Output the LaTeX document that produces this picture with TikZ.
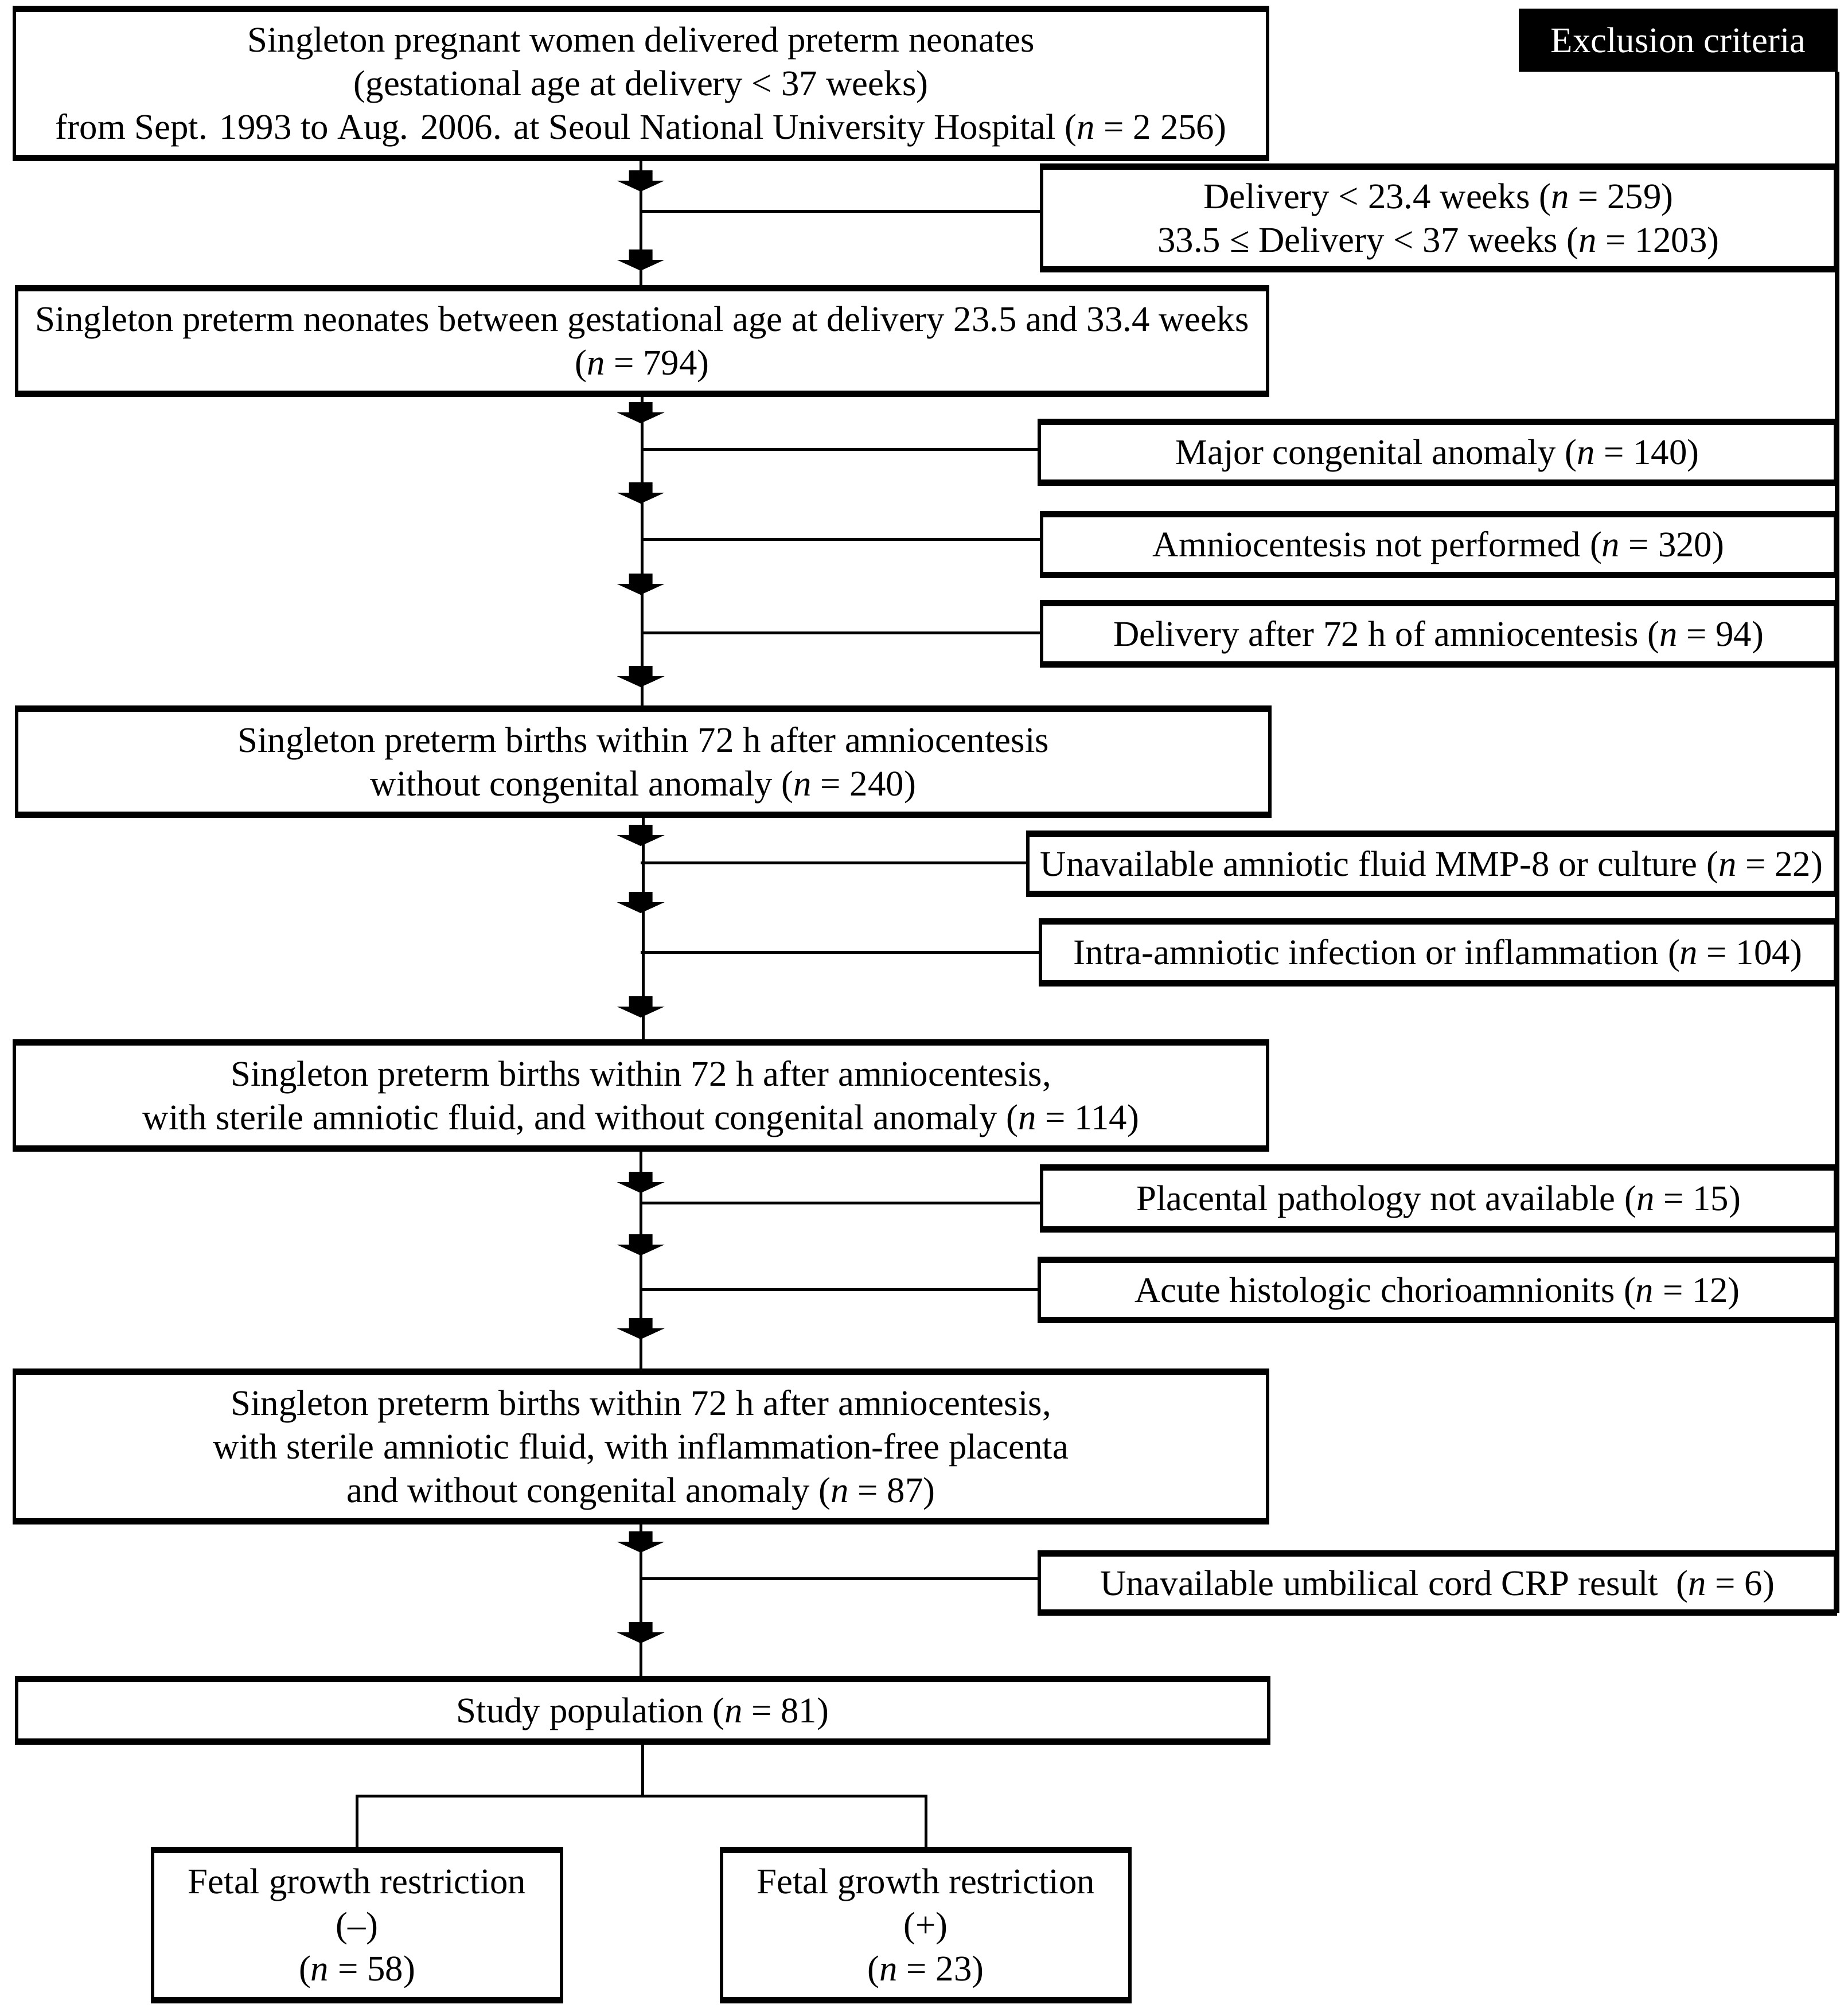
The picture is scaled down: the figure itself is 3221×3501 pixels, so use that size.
\documentclass[tikz,border=0pt]{standalone}
\usepackage{fontspec}
\setmainfont{Liberation Serif}
\newcommand{\nn}{\textit{n}}
\newcommand{\tstrut}{\rule{0pt}{56pt}}
\tikzset{
  txt/.style={font=\fontsize{62.8pt}{76pt}\selectfont},
  box/.style={txt, draw, line width=6pt, inner sep=0pt, align=center,
    append after command={
      (\tikzlastnode.north west) edge[line width=10pt, line cap=butt] (\tikzlastnode.north east)
      (\tikzlastnode.south west) edge[line width=10pt, line cap=butt] (\tikzlastnode.south east)}},
  conn/.style={line width=5pt},
  exline/.style={line width=8pt},
  blockarrow/.pic={\fill (-20.5,0) -- (20.5,0) -- (20.5,18) -- (41.5,18) -- (0,37) -- (-41.5,18) -- (-20.5,18) -- cycle;}
}
\begin{document}
\begin{tikzpicture}[x=1pt,y=-1pt]
\useasboundingbox (0,0) rectangle (3221,3501);

% main boxes
\node[box, minimum width=2185, minimum height=255] (top) at (1117.5,145.5)
  {\tstrut Singleton pregnant women delivered preterm neonates\\(gestational age at delivery < 37 weeks)\\from Sept. 1993 to Aug. 2006. at Seoul National University Hospital (\nn{} = 2~256)};
\node[box, minimum width=2181, minimum height=179] (b2) at (1119.5,594.5)
  {\tstrut Singleton preterm neonates between gestational age at delivery 23.5 and 33.4 weeks\\(\nn{} = 794)};
\node[box, minimum width=2185, minimum height=180] (b3) at (1121.5,1328)
  {\tstrut Singleton preterm births within 72 h after amniocentesis\\without congenital anomaly (\nn{} = 240)};
\node[box, minimum width=2185, minimum height=180] (b4) at (1117.5,1910)
  {\tstrut Singleton preterm births within 72 h after amniocentesis,\\with sterile amniotic fluid, and without congenital anomaly (\nn{} = 114)};
\node[box, minimum width=2185, minimum height=256] (b5) at (1117.5,2522)
  {\tstrut Singleton preterm births within 72 h after amniocentesis,\\with sterile amniotic fluid, with inflammation-free placenta\\and without congenital anomaly (\nn{} = 87)};
\node[box, minimum width=2183, minimum height=104] (study) at (1120.5,2982)
  {\tstrut Study population (\nn{} = 81)};
\node[box, minimum width=713, minimum height=257] (fgrm) at (622.5,3356.5)
  {\tstrut Fetal growth restriction\\(--)\\(\nn{} = 58)};
\node[box, minimum width=712, minimum height=257] (fgrp) at (1614,3356.5)
  {\tstrut Fetal growth restriction\\(+)\\(\nn{} = 23)};

% exclusion header
\node[txt, fill=black, text=white, inner sep=0pt, minimum width=556, minimum height=110] (excl) at (2926,70) {Exclusion criteria};

% exclusion boxes
\node[box, minimum width=1384, minimum height=174] (e1) at (2508,380)
  {\tstrut Delivery < 23.4 weeks (\nn{} = 259)\\33.5 ≤ Delivery < 37 weeks (\nn{} = 1203)};
\node[box, minimum width=1388, minimum height=101] (e2) at (2506,788.5)
  {\tstrut Major congenital anomaly (\nn{} = 140)};
\node[box, minimum width=1384, minimum height=101] (e3) at (2508,949.5)
  {\tstrut Amniocentesis not performed (\nn{} = 320)};
\node[box, minimum width=1384, minimum height=102] (e4) at (2508,1105)
  {\tstrut Delivery after 72 h of amniocentesis (\nn{} = 94)};
\node[box, minimum width=1408, minimum height=100] (e5) at (2496,1506)
  {\tstrut Unavailable amniotic fluid MMP-8 or culture (\nn{} = 22)};
\node[box, minimum width=1386, minimum height=103] (e6) at (2507,1660.5)
  {\tstrut Intra-amniotic infection or inflammation (\nn{} = 104)};
\node[box, minimum width=1384, minimum height=103] (e7) at (2508,2089.5)
  {\tstrut Placental pathology not available (\nn{} = 15)};
\node[box, minimum width=1388, minimum height=100] (e8) at (2506,2249)
  {\tstrut Acute histologic chorioamnionits (\nn{} = 12)};
\node[box, minimum width=1388, minimum height=98] (e9) at (2506,2760)
  {\tstrut Unavailable umbilical cord CRP result~~(\nn{} = 6)};

% exclusion vertical line
\draw[exline] (excl.south -| e9.east) -- (e9.south east);

% main flow line
\draw[conn] (top.south) -- (top.south |- b2.north);
\draw[conn] (b2.south) -- (b2.south |- b3.north);
\draw[conn] (b3.south) -- (b3.south |- b4.north);
\draw[conn] (b4.south) -- (b4.south |- b5.north);
\draw[conn] (b5.south) -- (b5.south |- study.north);

% junctions to exclusion boxes
\coordinate (j1) at (1117,368);
\coordinate (j2) at (1117,783);
\coordinate (j3) at (1117,940);
\coordinate (j4) at (1117,1103);
\coordinate (j5) at (1117,1504);
\coordinate (j6) at (1117,1660);
\coordinate (j7) at (1117,2097);
\coordinate (j8) at (1117,2248);
\coordinate (j9) at (1117,2752);
\draw[conn] (j1) -- (j1 -| e1.west);
\draw[conn] (j2) -- (j2 -| e2.west);
\draw[conn] (j3) -- (j3 -| e3.west);
\draw[conn] (j4) -- (j4 -| e4.west);
\draw[conn] (j5) -- (j5 -| e5.west);
\draw[conn] (j6) -- (j6 -| e6.west);
\draw[conn] (j7) -- (j7 -| e7.west);
\draw[conn] (j8) -- (j8 -| e8.west);
\draw[conn] (j9) -- (j9 -| e9.west);

% block arrows
\foreach \yy in {297,435,701,841,1000,1161,1438,1555,1737,2043,2152,2298,2670,2828}
  \pic at (1117,\yy) {blockarrow};

% bottom branching
\coordinate (br) at (1117,3131);
\draw[conn] (study.south) -- (study.south |- br);
\draw[conn] (fgrm.north) |- (br);
\draw[conn] (fgrp.north) |- (br);
\end{tikzpicture}
\end{document}
